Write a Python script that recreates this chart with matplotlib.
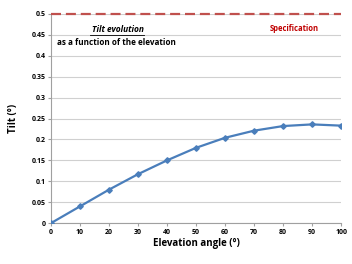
import matplotlib
matplotlib.use("Agg")
import matplotlib.pyplot as plt

plt.rcParams['font.family'] = ['Open Sans', 'DejaVu Sans']

# data
elevation = [0, 10, 20, 30, 40, 50, 60, 70, 80, 90, 100]
tilt = [0.0, 0.040, 0.080, 0.117, 0.150, 0.180, 0.204, 0.221, 0.232, 0.236, 0.233]
spec_value = 0.5
y_ticks = [0, 0.05, 0.1, 0.15, 0.2, 0.25, 0.3, 0.35, 0.4, 0.45, 0.5]
y_tick_labels = ['0', '0.05', '0.1', '0.15', '0.2', '0.25', '0.3', '0.35', '0.4', '0.45', '0.5']

fig = plt.figure(figsize=(3.52, 2.64), dpi=100)
ax = fig.add_axes([0.145, 0.155, 0.824, 0.792])

ax.plot(elevation, tilt, color='#4a7ebb', lw=1.6, marker='D', ms=2.8,
        markeredgecolor='#4a7ebb', zorder=3)
ax.axhline(spec_value, color='#c0504d', lw=1.6, ls=(0, (4.5, 2.2)), zorder=4,
           clip_on=False)

ax.set_xlim(0, 100)
ax.set_ylim(0, 0.5)
ax.set_xticks(elevation)
ax.set_yticks(y_ticks)
ax.set_yticklabels(y_tick_labels)
ax.tick_params(labelsize=5, length=2, color='#a0a0a0', pad=2)
for lbl in ax.get_xticklabels() + ax.get_yticklabels():
    lbl.set_fontweight('bold')

ax.grid(axis='y', color='#d0d0d0', lw=0.8)
ax.set_axisbelow(True)
for s in ['top', 'right']:
    ax.spines[s].set_visible(False)
for s in ['left', 'bottom']:
    ax.spines[s].set_color('#a0a0a0')
    ax.spines[s].set_linewidth(0.8)

ax.set_xlabel('Elevation angle (°)', fontsize=7, fontweight='bold', labelpad=2)
ax.set_ylabel('Tilt (°)', fontsize=7, fontweight='bold', labelpad=9)

fig.text(0.335, 0.888, 'Tilt evolution', fontsize=6, fontweight='bold',
         fontstyle='italic', ha='center', va='center')
fig.add_artist(plt.Line2D([0.257, 0.41], [0.866, 0.866], color='black',
                          lw=0.6, zorder=10))
fig.text(0.33, 0.838, 'as a function of the elevation', fontsize=5.9,
         fontweight='bold', ha='center', va='center')
fig.text(0.835, 0.893, 'Specification', fontsize=5.5, fontweight='bold',
         color='#c00000', ha='center', va='center')

fig.savefig('out.png', dpi=100)
